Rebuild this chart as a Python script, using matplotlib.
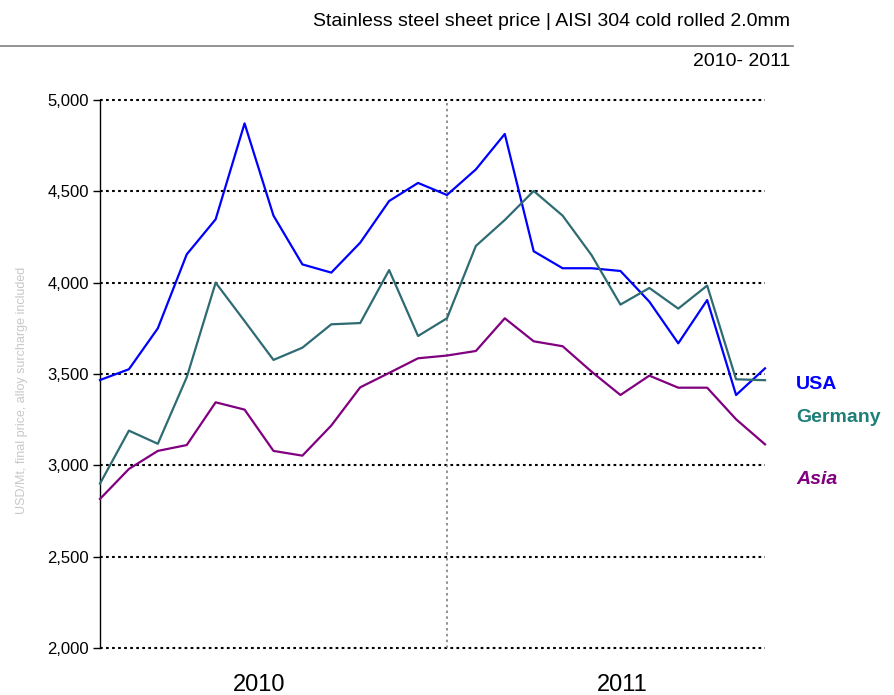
import matplotlib
matplotlib.use("Agg")
import matplotlib.pyplot as plt
import matplotlib.transforms as mtransforms
import numpy as np

plt.rcParams['font.family'] = ['Liberation Sans', 'DejaVu Sans']

# monthly prices, Jan 2010 .. Dec 2011 (USD/Mt)
usa = [3467, 3526, 3750, 4155, 4347, 4872, 4367, 4100, 4055, 4219, 4447, 4546,
       4480, 4620, 4814, 4172, 4079, 4079, 4064, 3896, 3668, 3905, 3385, 3531]
germany = [2900, 3190, 3118, 3482, 4000, 3790, 3577, 3644, 3772, 3779, 4069, 3708,
           3805, 4201, 4343, 4502, 4367, 4151, 3880, 3971, 3858, 3984, 3471, 3466]
asia = [2816, 2980, 3079, 3111, 3345, 3305, 3079, 3053, 3218, 3427, 3506, 3586,
        3601, 3626, 3805, 3679, 3652, 3513, 3385, 3491, 3425, 3425, 3252, 3115]
years = ['2010', '2011']
yticks = [2000, 2500, 3000, 3500, 4000, 4500, 5000]

months = np.arange(len(usa))

fig = plt.figure(figsize=(8.94, 6.95), dpi=100)
ax = fig.add_axes([100 / 894, 1 - 648 / 695, 665 / 894, 548 / 695])

# horizontal dotted grid
for v in yticks:
    ax.axhline(v, color='black', lw=1.5, ls=(0, (1.3, 1.6)), zorder=1, clip_on=False)
# year divider
ax.axvline(12, color='#808080', lw=1.2, ls=(0, (1.5, 2.0)), zorder=1)

ax.plot(months, usa, color='#0000FF', lw=1.6, zorder=3, clip_on=False)
ax.plot(months, germany, color='#2E6B72', lw=1.6, zorder=3, clip_on=False)
ax.plot(months, asia, color='#800080', lw=1.6, zorder=3, clip_on=False)

ax.set_xlim(0, 23)
ax.set_ylim(2000, 5000)
ax.set_yticks(yticks)
ax.set_yticklabels([f'{v:,}' for v in yticks], fontsize=12)
ax.tick_params(axis='y', length=5, width=1.0, pad=3, direction='out')
ax.set_xticks([5.5, 18.05])
ax.set_xticklabels(years, fontsize=17)
ax.tick_params(axis='x', length=0, pad=19)
for s in ['top', 'right', 'bottom']:
    ax.spines[s].set_visible(False)
ax.spines['left'].set_linewidth(1.0)

# series labels at the right
lab = mtransforms.blended_transform_factory(fig.transFigure, ax.transData)
ax.text(796 / 894, 3440, 'USA', transform=lab, color='#0000FF', fontsize=14,
        fontweight='bold', va='center', ha='left')
ax.text(796 / 894, 3262, 'Germany', transform=lab, color='#1E7F78', fontsize=14,
        fontweight='bold', va='center', ha='left')
ax.text(796 / 894, 2922, 'Asia', transform=lab, color='#800080', fontsize=14,
        fontweight='bold', fontstyle='italic', va='center', ha='left')

fig.text(22 / 894, 1 - 390 / 695, 'USD/Mt, final price, alloy surcharge included',
         rotation=90, color='#C8C8C8', fontsize=9, ha='center', va='center')

# header
fig.text(790 / 894, 1 - 22 / 695,
         'Stainless steel sheet price | AISI 304 cold rolled 2.0mm',
         fontsize=14, ha='right', va='center',
         family=['Liberation Sans Narrow', 'Liberation Sans'])
fig.add_artist(plt.Line2D([0, 793 / 894], [1 - 46 / 695, 1 - 46 / 695],
                          color='#808080', lw=1.2, transform=fig.transFigure))
fig.text(790 / 894, 1 - 61 / 695, '2010- 2011', fontsize=14, ha='right', va='center',
         family=['Liberation Sans Narrow', 'Liberation Sans'])

fig.savefig('out.png', dpi=100)
